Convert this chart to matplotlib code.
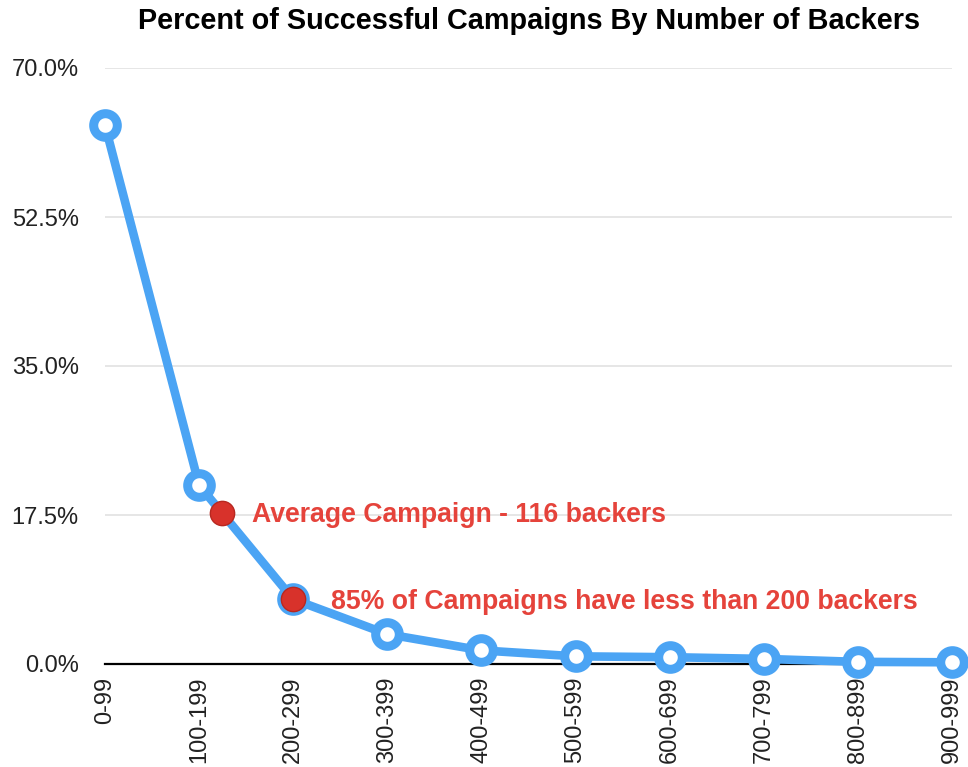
import numpy as np
import matplotlib
matplotlib.use("Agg")
import matplotlib.pyplot as plt

# Backer ranges and the share of successful campaigns in each (%)
categories = ["0-99", "100-199", "200-299", "300-399", "400-499",
              "500-599", "600-699", "700-799", "800-899", "900-999"]
success_pct = [63.3, 21.0, 7.6, 3.5, 1.6, 0.9, 0.8, 0.6, 0.25, 0.2]

y_ticks = [0.0, 17.5, 35.0, 52.5, 70.0]

# Highlighted positions along the curve (category index) and their labels
highlight_pos = [1.24, 2.0]
highlight_text = ["Average Campaign - 116 backers",
                  "85% of Campaigns have less than 200 backers"]
highlight_offset_px = [30, 38]

BLUE = "#4ba4f4"
RED = "#e5433b"
FONT = "Liberation Sans"

plt.rcParams["font.family"] = [FONT, "DejaVu Sans"]

fig = plt.figure(figsize=(9.68, 7.67), dpi=100)
ax = fig.add_axes([105 / 968, 1 - 664 / 767, (952 - 105) / 968, (664 - 68) / 767])

x = np.arange(len(categories))
ax.plot(x, success_pct, color=BLUE, lw=6.2, solid_joinstyle="round",
        solid_capstyle="round", zorder=3, clip_on=False)
ax.plot(x, success_pct, ls="none", marker="o", ms=17, mew=6.5,
        mec=BLUE, mfc="white", zorder=4, clip_on=False)

# red highlight dots sit on the line itself
for pos, txt, off in zip(highlight_pos, highlight_text, highlight_offset_px):
    yv = np.interp(pos, x, success_pct)
    ax.plot([pos], [yv], ls="none", marker="o", ms=17.5, mfc="#d8322b",
            mec="#b82820", mew=1.0, zorder=5, clip_on=False)
    ax.annotate(txt, xy=(pos, yv), xytext=(off * 0.72, -2),
                textcoords="offset points", ha="left", va="center",
                fontsize=19.2, fontweight="bold", color=RED, zorder=6)

ax.set_xlim(0, len(categories) - 1)
ax.set_ylim(0, 70)
ax.set_yticks(y_ticks)
ax.set_yticklabels([f"{v:.1f}%" for v in y_ticks])
ax.set_xticks(x)
ax.set_xticklabels(categories, rotation=90)

ax.tick_params(axis="both", length=0, labelsize=17, colors="#222222")
ax.tick_params(axis="y", pad=19)
ax.tick_params(axis="x", pad=9)

ax.yaxis.grid(True, color="#e2e2e2", lw=1.2, zorder=0)
ax.set_axisbelow(True)
for side in ["top", "right", "left"]:
    ax.spines[side].set_visible(False)
ax.spines["bottom"].set_color("black")
ax.spines["bottom"].set_linewidth(1.6)
ax.spines["bottom"].set_zorder(2)

fig.text(528.5 / 968, 1 - 21 / 767,
         "Percent of Successful Campaigns By Number of Backers",
         ha="center", va="center", fontsize=20.8, fontweight="bold", color="black")

fig.savefig("out.png", dpi=100, facecolor="white")
